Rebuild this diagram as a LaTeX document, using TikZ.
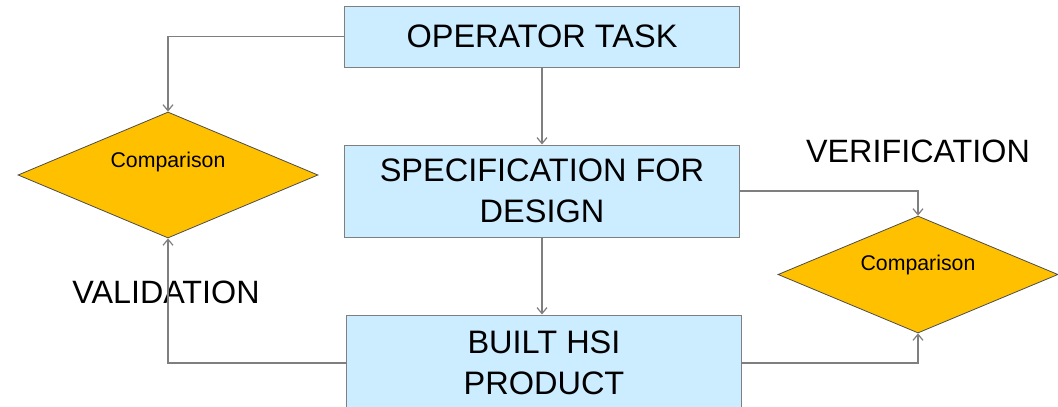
\documentclass[tikz,border=0pt]{standalone}
\usepackage{fontspec}
\setmainfont{Liberation Sans}
\usetikzlibrary{shapes.geometric,arrows.meta,positioning}

\definecolor{boxblue}{HTML}{CCECFF}
\definecolor{cmpgold}{HTML}{FFC000}
\definecolor{linegray}{HTML}{7F7F7F}

\tikzset{
    taskbox/.style={draw=linegray, line width=1pt, fill=boxblue, minimum width=395pt,
        align=center, inner sep=0pt, font=\fontsize{32.5}{41}\selectfont},
    cmpdiamond/.style={draw=black!70, line width=0.8pt, fill=cmpgold, shape=diamond,
        inner sep=0pt},
    cmptext/.style={font=\fontsize{21.3}{24}\selectfont},
    biglabel/.style={font=\fontsize{32.3}{38}\selectfont},
    link/.style={draw=linegray, line width=1.2pt, -{Straight Barb[length=6pt,width=10pt]}}
}

\begin{document}
\begin{tikzpicture}[x=1pt,y=-1pt]
    \useasboundingbox (0,0) rectangle (1058,407);

    % Boxes
    \node[taskbox, minimum height=61pt] (task) at (542,36.5) {OPERATOR TASK};
    \node[taskbox, minimum height=92pt] (spec) at (542,191) {SPECIFICATION FOR\\DESIGN};
    \node[taskbox, minimum height=96pt] (built) at (544,363) {BUILT HSI\\PRODUCT};

    % Comparisons
    \node[cmpdiamond, minimum width=300pt, minimum height=126pt,
          label={[cmptext, yshift=13pt]center:Comparison}] (cmpL) at (168,175) {};
    \node[cmpdiamond, minimum width=280pt, minimum height=117pt,
          label={[cmptext, yshift=10pt]center:Comparison}] (cmpR) at (918,274.5) {};

    % Labels
    \node[biglabel] (verif) at (918,151) {VERIFICATION};
    \node[biglabel] (valid) at (166,292) {VALIDATION};

    % Connectors
    \draw[link] (task.west) -| (cmpL.north);
    \draw[link] (task.south) -- (spec.north);
    \draw[link] (spec.east) -| (cmpR.north);
    \draw[link] (spec.south) -- (built.north -| spec.south);
    \draw[link] (built.west) -| (cmpL.south);
    \draw[link] (built.east) -| (cmpR.south);
\end{tikzpicture}
\end{document}
